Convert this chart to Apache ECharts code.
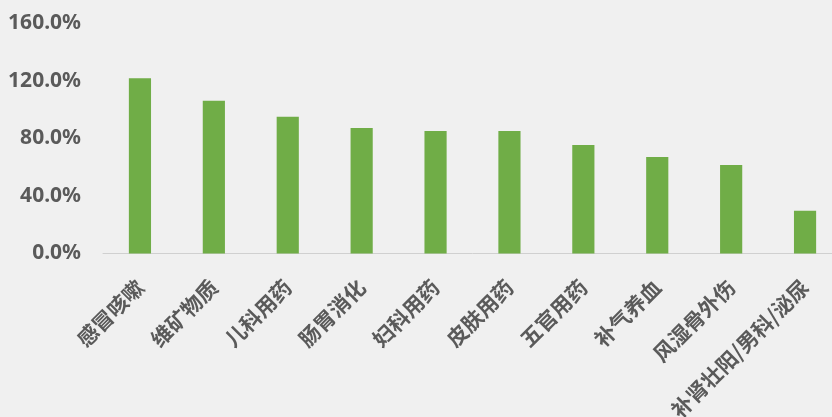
<!DOCTYPE html>
<html><head><meta charset="utf-8">
<script src="https://cdn.jsdelivr.net/npm/echarts@6/dist/echarts.min.js"></script>
<style>html,body{margin:0;padding:0;background:#f0f0f0;width:832px;height:417px;overflow:hidden;}
#wrap{width:832px;height:417px;overflow:hidden;position:relative;}
#c{width:842px;height:417px;position:absolute;left:0;top:0;}</style>
</head><body><div id="wrap"><div id="c"></div></div>
<script>
const categories = ['感冒咳嗽','维矿物质','儿科用药','肠胃消化','妇科用药','皮肤用药','五官用药','补气养血','风湿骨外伤','补肾壮阳/男科/泌尿'];
const values = [121.9, 106.3, 95.2, 87.3, 85.2, 85.3, 75.5, 67.1, 61.6, 29.8];
const yTicks = { min: 0, max: 160, interval: 40 };

const chart = echarts.init(document.getElementById('c'));
chart.setOption({
  backgroundColor: '#f0f0f0',
  animation: false,
  grid: { left: 103, right: 0, top: 23.5, bottom: 163.5, containLabel: false, outerBoundsMode: 'none' },
  xAxis: {
    type: 'category', data: categories,
    axisLine: { lineStyle: { color: '#d0d0d0', width: 1 } },
    axisTick: { show: false },
    axisLabel: { rotate: 45, interval: 0, margin: 30, color: '#5a5a5a', fontSize: 21, fontWeight: 'bold', fontFamily: 'Noto Sans CJK SC' }
  },
  yAxis: {
    type: 'value', min: yTicks.min, max: yTicks.max, interval: yTicks.interval,
    splitLine: { show: false },
    axisLine: { show: false }, axisTick: { show: false },
    axisLabel: { margin: 22, color: '#5a5a5a', fontSize: 21, fontWeight: 'bold', fontFamily: 'Noto Sans',
      formatter: v => v.toFixed(1) + '%' }
  },
  series: [{ type: 'bar', data: values, barWidth: '30%', itemStyle: { color: '#70ad47' } }]
});
</script></body></html>
